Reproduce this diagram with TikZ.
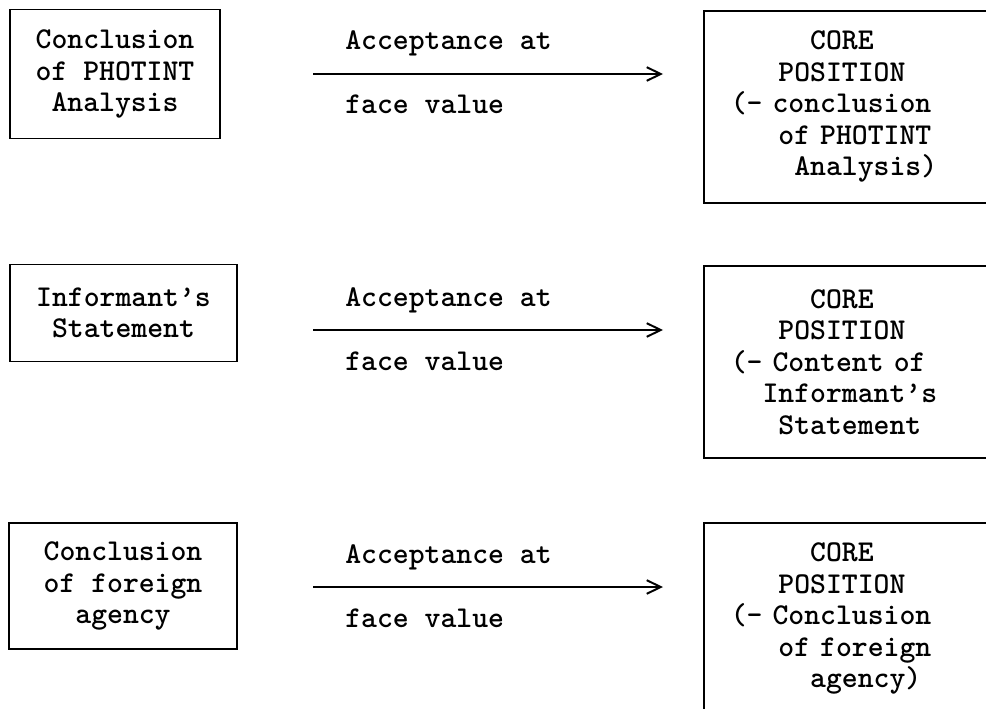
\documentclass[tikz,border=0pt]{standalone}
\usepackage{fontspec}
\usetikzlibrary{arrows.meta,positioning}
\newcommand{\typefont}{\ttfamily\bfseries\fontsize{21.5}{22.4}\selectfont}
\newcommand{\ind}[1]{\hspace*{#1\fontcharwd\font`x}}

\begin{document}
\begin{tikzpicture}[x=0.025cm, y=-0.025cm,
  src/.style={rectangle, draw=black, line width=1.1pt, align=center, inner sep=0pt, font=\typefont},
  core/.style={rectangle, draw=black, line width=1.1pt, align=left, anchor=north west, minimum height=4.8cm, inner xsep=0.675cm, text width=6.4cm, font=\typefont},
  label/.style={anchor=base west, inner sep=0pt, font=\typefont},
  arrow/.style={-{Straight Barb[length=3.5mm, width=3.4mm]}, line width=1.4pt}
]
\useasboundingbox (0,0) rectangle (986,709);
\clip (0,0) rectangle (986,709);
% left column
\node[src, minimum width=5.25cm, minimum height=3.225cm] (s1) at (115,74) {Conclusion\\of PHOTINT\\Analysis};
\node[src, minimum width=5.675cm, minimum height=2.425cm] (s2) at (123.5,313) {Informant’s\\Statement};
\node[src, minimum width=5.7cm, minimum height=3.15cm] (s3) at (123,586) {Conclusion\\of foreign\\agency};
% right column
\node[core] (c1) at (703,10) {\ind{5}CORE\\\ind{3}POSITION\\(- conclusion\\\ind{3}of PHOTINT\\\ind{4}Analysis)};
\node[core] (c2) at (703,265) {\ind{5}CORE\\\ind{3}POSITION\\(- Content of\\\ind{2}Informant’s\\\ind{3}Statement};
\node[core] (c3) at (703,522) {\ind{5}CORE\\\ind{3}POSITION\\(- Conclusion\\\ind{3}of foreign\\\ind{5}agency)};
% arrows
\coordinate (a1) at (313,74);
\coordinate (b1) at (663,74);
\coordinate (a2) at (313,330);
\coordinate (b2) at (663,330);
\coordinate (a3) at (313,587);
\coordinate (b3) at (663,587);
\draw[arrow] (a1) -- (b1);
\draw[arrow] (a2) -- (b2);
\draw[arrow] (a3) -- (b3);
\node[label] (t1) at (345,50) {Acceptance at};
\node[label] (f1) at (345,114) {face value};
\node[label] (t2) at (345,306) {Acceptance at};
\node[label] (f2) at (345,370) {face value};
\node[label] (t3) at (345,563) {Acceptance at};
\node[label] (f3) at (345,627) {face value};
\end{tikzpicture}
\end{document}
